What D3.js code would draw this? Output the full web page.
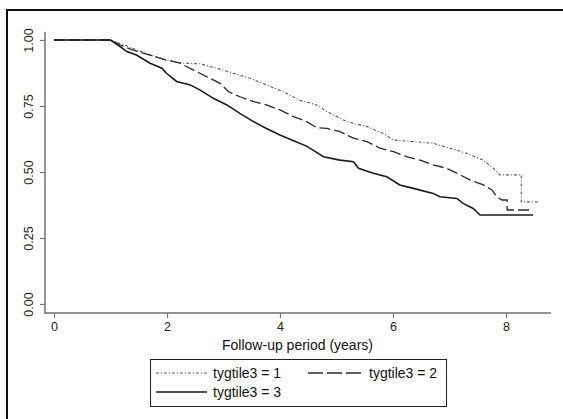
<!DOCTYPE html>
<html>
<head>
<meta charset="utf-8">
<script src="https://cdn.jsdelivr.net/npm/d3@7"></script>
<style>
  html, body { margin: 0; padding: 0; background: #fff; }
  svg { display: block; font-family: "Liberation Sans", Arial, sans-serif; }
</style>
</head>
<body>
<svg id="chart" width="563" height="419"></svg>
<script>
// ---- data ----
const xTicks = [0, 2, 4, 6, 8];
const yTicks = [0, 0.25, 0.5, 0.75, 1];
const xTitle = "Follow-up period (years)";
const seriesNames = ["tygtile3 = 1", "tygtile3 = 2", "tygtile3 = 3"];

const time1 = [0, 1.0, 1.17, 1.40, 1.70, 1.99, 2.29, 2.58, 2.88, 3.17, 3.47, 3.76, 4.06, 4.35, 4.65, 4.83, 5.18, 5.54, 5.83, 6.01, 6.36, 6.71, 7.01, 7.30, 7.60, 7.78, 7.89, 8.27, 8.27, 8.56];
const surv1 = [1, 1, 0.987, 0.968, 0.943, 0.924, 0.912, 0.910, 0.893, 0.874, 0.855, 0.830, 0.804, 0.772, 0.754, 0.729, 0.691, 0.672, 0.646, 0.621, 0.615, 0.609, 0.590, 0.571, 0.545, 0.514, 0.489, 0.489, 0.387, 0.387];

const time2 = [0, 1.0, 1.17, 1.40, 1.70, 1.99, 2.23, 2.47, 2.76, 2.94, 3.09, 3.29, 3.53, 3.76, 4.0, 4.24, 4.47, 4.65, 4.83, 5.06, 5.30, 5.54, 5.77, 6.01, 6.24, 6.48, 6.71, 6.95, 7.19, 7.36, 7.60, 7.75, 7.84, 7.93, 8.02, 8.02, 8.43];
const surv2 = [1, 1, 0.981, 0.962, 0.943, 0.924, 0.912, 0.886, 0.855, 0.836, 0.804, 0.785, 0.767, 0.754, 0.735, 0.710, 0.691, 0.668, 0.665, 0.653, 0.628, 0.615, 0.590, 0.577, 0.558, 0.545, 0.527, 0.514, 0.489, 0.470, 0.451, 0.432, 0.406, 0.394, 0.394, 0.356, 0.356];

const time3 = [0, 1.0, 1.17, 1.29, 1.46, 1.70, 1.91, 1.99, 2.17, 2.41, 2.58, 2.82, 3.06, 3.29, 3.53, 3.76, 4.0, 4.24, 4.47, 4.77, 5.06, 5.30, 5.39, 5.65, 5.89, 6.12, 6.36, 6.71, 6.83, 7.13, 7.24, 7.42, 7.54, 8.48];
const surv3 = [1, 1, 0.975, 0.956, 0.943, 0.912, 0.893, 0.874, 0.843, 0.830, 0.811, 0.779, 0.754, 0.722, 0.691, 0.665, 0.640, 0.618, 0.598, 0.558, 0.545, 0.539, 0.514, 0.495, 0.482, 0.451, 0.438, 0.419, 0.406, 0.400, 0.381, 0.362, 0.337, 0.337];

// ---- drawing ----
const svg = d3.select("#chart");

const styles = [
  { stroke: "#555", width: 1.1, dash: "3,2,1,2" },
  { stroke: "#2a2a2a", width: 1.3, dash: "11,4" },
  { stroke: "#1a1a1a", width: 1.6, dash: null }
];

const x = d3.scaleLinear().domain([0, 8]).range([54, 506]);
const y = d3.scaleLinear().domain([0, 1]).range([304, 40]);

// outer frame (left and top edges visible)
svg.append("line").attr("x1", 7).attr("y1", 9).attr("x2", 7).attr("y2", 419)
  .attr("stroke", "#111").attr("stroke-width", 2);
svg.append("line").attr("x1", 6).attr("y1", 10).attr("x2", 563).attr("y2", 10)
  .attr("stroke", "#111").attr("stroke-width", 2);

const axisColor = "#707070";

// y axis
const yAxis = svg.append("g").attr("transform", "translate(45,0)")
  .call(d3.axisLeft(y).tickValues(yTicks).tickFormat(d3.format(".2f")).tickSize(5).tickSizeOuter(0));
yAxis.select(".domain").remove();
yAxis.append("line").attr("x1", 0).attr("x2", 0).attr("y1", 32).attr("y2", 313.5)
  .attr("stroke", axisColor).attr("stroke-width", 1.5);
yAxis.selectAll(".tick line").attr("stroke", axisColor).attr("stroke-width", 1.2);
yAxis.selectAll(".tick text")
  .attr("transform", "rotate(-90)")
  .attr("x", 0).attr("y", -16).attr("dy", "0.35em")
  .attr("text-anchor", "middle")
  .attr("font-size", 12.5).attr("fill", "#222");
yAxis.selectAll(".tick text").each(function(d) {
  d3.select(this).attr("transform", null)
    .attr("x", null).attr("y", null)
    .attr("transform", "translate(-16,0) rotate(-90)")
    .attr("dy", "0.35em");
});

// x axis
const xAxis = svg.append("g").attr("transform", "translate(0,313)")
  .call(d3.axisBottom(x).tickValues(xTicks).tickSize(5).tickSizeOuter(0));
xAxis.select(".domain").remove();
xAxis.append("line").attr("x1", 44.3).attr("x2", 551).attr("y1", 0).attr("y2", 0)
  .attr("stroke", axisColor).attr("stroke-width", 1.5);
xAxis.selectAll(".tick line").attr("stroke", axisColor).attr("stroke-width", 1.2);
xAxis.selectAll(".tick text").attr("y", 9).attr("font-size", 12.5).attr("fill", "#222");

svg.append("text").attr("x", 297.5).attr("y", 345).attr("dy", "0.35em")
  .attr("text-anchor", "middle").attr("font-size", 14).attr("fill", "#111")
  .text(xTitle);

// curves
const allSeries = [
  d3.zip(time1, surv1),
  d3.zip(time2, surv2),
  d3.zip(time3, surv3)
];
const line = d3.line().x(d => x(d[0])).y(d => y(d[1])).curve(d3.curveLinear);

allSeries.forEach((data, i) => {
  svg.append("path").datum(data)
    .attr("d", line)
    .attr("fill", "none")
    .attr("stroke", styles[i].stroke)
    .attr("stroke-width", styles[i].width)
    .attr("stroke-dasharray", styles[i].dash)
    .attr("stroke-linejoin", "miter");
});

// legend
const lg = svg.append("g");
lg.append("rect").attr("x", 150.5).attr("y", 359.5).attr("width", 296).attr("height", 47)
  .attr("fill", "#fff").attr("stroke", "#222").attr("stroke-width", 1);
const legendPos = [
  { x1: 156, x2: 207, tx: 213, y: 373 },
  { x1: 308, x2: 362, tx: 369, y: 373 },
  { x1: 156, x2: 207, tx: 213, y: 392 }
];
seriesNames.forEach((name, i) => {
  const p = legendPos[i];
  lg.append("line").attr("x1", p.x1).attr("x2", p.x2).attr("y1", p.y).attr("y2", p.y)
    .attr("stroke", styles[i].stroke).attr("stroke-width", styles[i].width)
    .attr("stroke-dasharray", i === 1 ? "15,4" : styles[i].dash);
  lg.append("text").attr("x", p.tx).attr("y", p.y).attr("dy", "0.35em")
    .attr("font-size", 14).attr("fill", "#111").text(name);
});
</script>
</body>
</html>
